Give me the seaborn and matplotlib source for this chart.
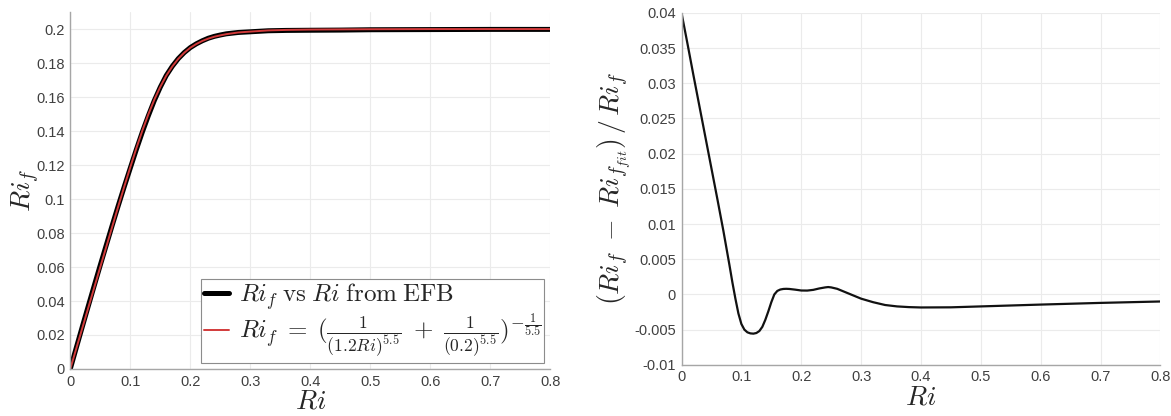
import numpy as np
import pandas as pd
import matplotlib
matplotlib.use('Agg')
import matplotlib.pyplot as plt
from matplotlib.ticker import FuncFormatter, MultipleLocator
import seaborn as sns

# left panel: Ri_f vs Ri
ri = [0, 0.01, 0.02, 0.03, 0.04, 0.05, 0.06, 0.07, 0.08, 0.09, 0.10, 0.11, 0.12,
      0.13, 0.14, 0.15, 0.16, 0.17, 0.18, 0.19, 0.20, 0.21, 0.22, 0.23, 0.24,
      0.25, 0.26, 0.28, 0.30, 0.33, 0.36, 0.40, 0.45, 0.50, 0.60, 0.70, 0.80]
rif_efb = [0, 0.01244, 0.02477, 0.03698, 0.04909, 0.06108, 0.07286, 0.08461,
           0.09612, 0.1073, 0.1182, 0.1290, 0.1393, 0.1489, 0.1579, 0.1658,
           0.1727, 0.1781, 0.1826, 0.1862, 0.1891, 0.1913, 0.1931, 0.1946,
           0.1957, 0.1965, 0.1972, 0.1980, 0.1984, 0.1990, 0.1992, 0.1993,
           0.1994, 0.1996, 0.1997, 0.1998, 0.1998]
rif_fit = [0, 0.0120, 0.0240, 0.0360, 0.0480, 0.05999, 0.0719, 0.08387, 0.0957,
           0.10735, 0.1187, 0.1297, 0.1401, 0.1497, 0.1584, 0.1660, 0.1726,
           0.1780, 0.1825, 0.1861, 0.1890, 0.1912, 0.1930, 0.1944, 0.1955,
           0.1963, 0.1970, 0.1980, 0.1985, 0.1992, 0.1995, 0.1997, 0.1998,
           0.1999, 0.2000, 0.2000, 0.2000]

# right panel: relative error of the fit
ri_err = [0, 0.01, 0.02, 0.03, 0.04, 0.05, 0.06, 0.07, 0.075, 0.08, 0.085,
          0.09, 0.095, 0.10, 0.105, 0.11, 0.115, 0.12, 0.125, 0.13, 0.135,
          0.14, 0.145, 0.15, 0.155, 0.16, 0.165, 0.17, 0.175, 0.18, 0.19,
          0.20, 0.21, 0.22, 0.23, 0.24, 0.245, 0.25, 0.26, 0.27, 0.28, 0.29,
          0.30, 0.32, 0.34, 0.36, 0.38, 0.40, 0.45, 0.50, 0.55, 0.60, 0.65,
          0.70, 0.75, 0.80]
rel_err = [0.0400, 0.0356, 0.0311, 0.0267, 0.0223, 0.0179, 0.0135, 0.0090,
           0.0066, 0.0042, 0.0017, -0.0006, -0.0027, -0.0042, -0.0050,
           -0.00538, -0.00553, -0.00557, -0.00548, -0.0052, -0.0046,
           -0.0036, -0.0024, -0.0011, 0.0000, 0.0005, 0.0007, 0.00078,
           0.0008, 0.00078, 0.00068, 0.00056, 0.00055, 0.00065, 0.00085,
           0.0010, 0.00105, 0.0010, 0.0008, 0.00045, 0.0001, -0.00025,
           -0.0006, -0.0011, -0.0015, -0.0017, -0.0018, -0.00185, -0.00183,
           -0.0017, -0.00157, -0.00144, -0.00132, -0.0012, -0.0011, -0.0010]

df_left = pd.DataFrame({'Ri': ri, 'efb': rif_efb, 'fit': rif_fit})
df_right = pd.DataFrame({'Ri': ri_err, 'err': rel_err})

sns.set_theme(style='whitegrid')
plt.rcParams['font.family'] = ['Liberation Sans', 'DejaVu Sans']
plt.rcParams['mathtext.fontset'] = 'cm'

fig = plt.figure(figsize=(11.71, 4.16), dpi=100)
ax1 = fig.add_axes([0.060, 0.113, 0.410, 0.858])
ax2 = fig.add_axes([0.582, 0.123, 0.409, 0.846])

gfmt = FuncFormatter(lambda v, p: '%g' % round(v, 6))

sns.lineplot(data=df_left, x='Ri', y='efb', ax=ax1, color='black', lw=3.6,
             label=r'$Ri_f\;\mathrm{vs}\;Ri\;\mathrm{from\;EFB}$')
sns.lineplot(data=df_left, x='Ri', y='fit', ax=ax1, color='#d23a3a', lw=1.4,
             label=r'$Ri_f\;=\;(\frac{1}{(1.2Ri)^{5.5}}\;+\;\frac{1}{(0.2)^{5.5}})^{-\frac{1}{5.5}}$')
ax1.set_xlim(0, 0.8)
ax1.set_ylim(0, 0.21)
ax1.yaxis.set_major_locator(MultipleLocator(0.02))
ax1.set_ylabel(r'$Ri_f$', fontsize=20, labelpad=-4)

sns.lineplot(data=df_right, x='Ri', y='err', ax=ax2, color='#111111', lw=1.6)
ax2.set_xlim(0, 0.8)
ax2.set_ylim(-0.01, 0.04)
ax2.yaxis.set_major_locator(MultipleLocator(0.005))
ax2.set_ylabel(r'$(Ri_f\;-\;Ri_{f_{fit}})\,/\,Ri_f$', fontsize=20, labelpad=1)

for ax in (ax1, ax2):
    ax.xaxis.set_major_locator(MultipleLocator(0.1))
    ax.xaxis.set_major_formatter(gfmt)
    ax.yaxis.set_major_formatter(gfmt)
    ax.set_xlabel(r'$Ri$', fontsize=20, labelpad=0)
    ax.grid(True, color='#ebebeb', lw=0.8)
    ax.set_facecolor('white')
    for s in ('top', 'right'):
        ax.spines[s].set_visible(False)
    for s in ('left', 'bottom'):
        ax.spines[s].set_color('#a6a6a6')
        ax.spines[s].set_linewidth(1.0)
    ax.tick_params(direction='in', length=3, width=0.8, color='#a6a6a6',
                   labelsize=10.5, labelcolor='#404040', pad=4)

leg = ax1.legend(loc='lower right', fontsize=18, frameon=True, fancybox=False,
                 borderaxespad=0.25, handlelength=1.0, handletextpad=0.4,
                 borderpad=0.1, labelspacing=0.0)
leg.get_frame().set_edgecolor('#8c8c8c')
leg.get_frame().set_linewidth(0.8)
leg.get_frame().set_alpha(1)

plt.savefig('out.png', dpi=100)
plt.close()
